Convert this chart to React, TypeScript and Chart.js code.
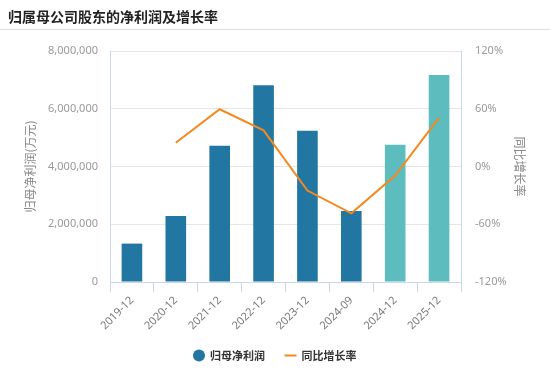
import React, { useEffect, useRef } from "react";
import { Chart, registerables } from "chart.js";

Chart.register(...registerables);

const categories = ["2019-12", "2020-12", "2021-12", "2022-12", "2023-12", "2024-09", "2024-12", "2025-12"];
const netProfit = [1330000, 2290000, 4720000, 6810000, 5240000, 2460000, 4750000, 7170000];
const growthRate = [null, 24.7, 59.5, 37.6, -25.0, -48.7, -9.4, 50.8];
const barColors = ["#2276a2", "#2276a2", "#2276a2", "#2276a2", "#2276a2", "#2276a2", "#5dbdbe", "#5dbdbe"];
const leftTicks = { min: 0, max: 8000000, step: 2000000 };
const rightTicks = { min: -120, max: 120, step: 60 };

const titleText = "归属母公司股东的净利润及增长率";
const barLabel = "归母净利润";
const lineLabel = "同比增长率";
const leftTitle = "归母净利润(万元)";
const rightTitle = "同比增长率";

const CJK = "'Noto Sans CJK SC', 'Noto Sans', sans-serif";
const TICK_FONT = "'Noto Sans', 'Noto Sans CJK SC', sans-serif";

const rightTitlePlugin = {
  id: "rightTitle",
  afterDraw(chart: any) {
    const s = chart.scales.y1;
    if (!s) return;
    const ctx = chart.ctx;
    const cy = (chart.chartArea.top + chart.chartArea.bottom) / 2;
    ctx.save();
    ctx.translate(520, cy);
    ctx.rotate(Math.PI / 2);
    ctx.fillStyle = "#888";
    ctx.font = "12px " + CJK;
    ctx.textAlign = "center";
    ctx.textBaseline = "middle";
    ctx.fillText(rightTitle, 0, 0);
    ctx.restore();
  },
};

export default function App() {
  const ref = useRef<HTMLCanvasElement | null>(null);

  useEffect(() => {
    if (!ref.current) return;
    const chart = new Chart(ref.current, {
      data: {
        labels: categories,
        datasets: [
          {
            type: "bar",
            label: barLabel,
            data: netProfit,
            backgroundColor: barColors,
            borderWidth: 0,
            barPercentage: 0.47,
            categoryPercentage: 1,
            yAxisID: "y",
            order: 1,
            pointStyle: "circle",
          } as any,
          {
            type: "line",
            label: lineLabel,
            data: growthRate,
            borderColor: "#f5891f",
            backgroundColor: "#f5891f",
            borderWidth: 2,
            pointRadius: 0,
            pointStyle: "line",
            tension: 0,
            yAxisID: "y1",
            order: 0,
          } as any,
        ],
      },
      plugins: [rightTitlePlugin],
      options: {
        animation: false,
        responsive: false,
        maintainAspectRatio: false,
        layout: { padding: { top: 51, left: 0, right: 0, bottom: 3 } },
        plugins: {
          tooltip: { enabled: false },
          legend: {
            position: "bottom",
            labels: {
              usePointStyle: true,
              boxHeight: 8.5,
              padding: 20,
              color: "#333",
              font: { family: CJK, size: 11, weight: "bold" },
              sort: (a: any, b: any) => a.datasetIndex - b.datasetIndex,
            },
          },
        },
        scales: {
          x: {
            offset: true,
            grid: {
              offset: true,
              drawOnChartArea: false,
              drawTicks: true,
              tickLength: 10,
              color: "#ccd6eb",
            },
            border: { color: "#ccd6eb" },
            ticks: {
              maxRotation: 45,
              minRotation: 45,
              padding: 2,
              color: "#777",
              font: { family: TICK_FONT, size: 11 },
            },
            afterFit: (s: any) => {
              s.height = 48;
            },
          },
          y: {
            position: "left",
            min: leftTicks.min,
            max: leftTicks.max,
            grid: { color: "#e6e6e6", drawTicks: false },
            border: { color: "#ccd6eb" },
            ticks: {
              stepSize: leftTicks.step,
              padding: 12,
              color: "#999",
              font: { family: TICK_FONT, size: 11 },
              callback: (v: any) => Number(v).toLocaleString("en-US"),
            },
            title: {
              display: true,
              text: leftTitle,
              color: "#888",
              font: { family: CJK, size: 12 },
              padding: { top: 23, bottom: 0 },
            },
            afterFit: (s: any) => {
              s.width = 110;
            },
          },
          y1: {
            position: "right",
            min: rightTicks.min,
            max: rightTicks.max,
            grid: { drawOnChartArea: false, drawTicks: false, color: "#e6e6e6" },
            border: { color: "#ccd6eb" },
            ticks: {
              stepSize: rightTicks.step,
              padding: 14,
              color: "#999",
              font: { family: TICK_FONT, size: 11 },
              callback: (v: any) => v + "%",
            },
            title: { display: false },
            afterFit: (s: any) => {
              s.width = 89;
            },
          },
        },
      } as any,
    });
    return () => chart.destroy();
  }, []);

  return (
    <div style={{ position: "absolute", left: 0, top: 0, width: 550, height: 374, background: "#fff" }}>
      <canvas ref={ref} width={550} height={374} style={{ position: "absolute", left: 0, top: 0, width: 550, height: 374 }} />
      <div
        style={{
          position: "absolute",
          left: 8,
          top: 6,
          fontFamily: CJK,
          fontSize: 14,
          fontWeight: "bold",
          color: "#222",
          lineHeight: "20px",
          whiteSpace: "nowrap",
        }}
      >
        {titleText}
      </div>
      <div style={{ position: "absolute", left: 0, top: 29, width: 550, height: 1, background: "#ddd" }} />
    </div>
  );
}
